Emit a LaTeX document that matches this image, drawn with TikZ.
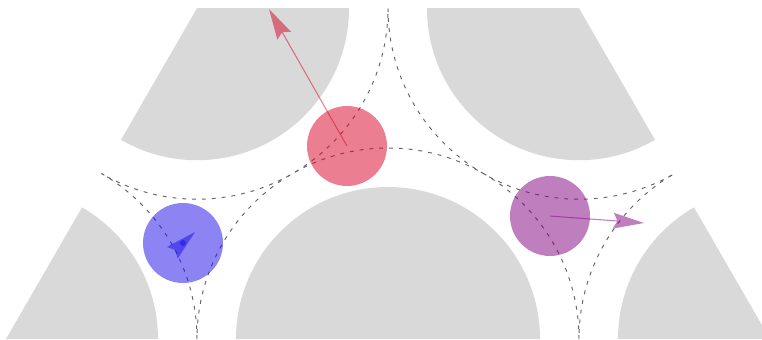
\documentclass[tikz,border=0pt]{standalone}
\usetikzlibrary{arrows.meta}
\definecolor{ballred}{RGB}{215,0,35}
\definecolor{ballblue}{RGB}{25,10,230}
\definecolor{ballpurple}{RGB}{128,0,128}
\begin{document}
\begin{tikzpicture}[x=0.02cm, y=0.02cm,
  obstacle/.style={fill=black!15},
  orbit/.style={draw=black!60, line width=0.55pt, dash pattern=on 2.2pt off 3.4pt},
  ball/.style={circle, minimum size=1.6cm, inner sep=0pt, fill opacity=0.5},
  velocity/.style={line width=0.6pt, opacity=0.5, -{Stealth[length=17.5pt, width=9pt, inset=2.3pt, line width=0pt]}}]
  \useasboundingbox (0,0) rectangle (762,339);

  % lattice sites
  \coordinate (s1) at (6,0);
  \coordinate (s2) at (388,0);
  \coordinate (s3) at (770,0);
  \coordinate (s4) at (197,330.8);
  \coordinate (s5) at (579,330.8);

  \begin{scope}
    \clip (s1) -- (s4) -- (s5) -- (s3) -- cycle;
    \foreach \s in {s1,s2,s3,s4,s5} \fill[obstacle] (\s) circle (152);
    \foreach \s in {s1,s2,s3,s4,s5} \draw[orbit] (\s) circle (191);
  \end{scope}

  % particles
  \node[ball, fill=ballred] (redball) at (347,193) {};
  \node[ball, fill=ballblue] (blueball) at (183,96) {};
  \node[ball, fill=ballpurple] (purpleball) at (550,123) {};

  \coordinate (redtip) at (269,330);
  \coordinate (bluetip) at (195,107);
  \coordinate (purpletip) at (644,116);

  \draw[velocity, ballred] (redball.center) -- (redtip);
  \draw[velocity, ballblue, draw opacity=0] (blueball.center) -- (bluetip);
  \fill[ballblue, opacity=0.5] (blueball.center) circle (3);
  \draw[velocity, ballpurple] (purpleball.center) -- (purpletip);
\end{tikzpicture}
\end{document}
